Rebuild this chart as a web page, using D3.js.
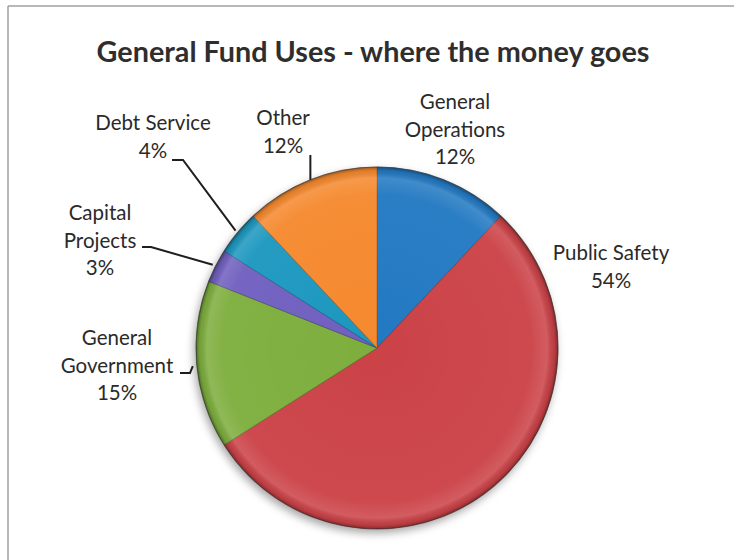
<!DOCTYPE html>
<html>
<head>
<meta charset="utf-8">
<script src="https://cdn.jsdelivr.net/npm/d3@7"></script>
<style>
  html, body { margin: 0; padding: 0; background: #ffffff; }
  svg { display: block; }
  text { font-family: Lato, "Open Sans", sans-serif; }
</style>
</head>
<body>
<svg id="chart" width="734" height="560"></svg>
<script>
// Budget categories, clockwise from twelve o'clock
const categories = ["General Operations", "Public Safety", "General Government", "Capital Projects", "Debt Service", "Other"];
const shares = [12, 54, 15, 3, 4, 12];
const labelLines = [
  ["General", "Operations", "12%"],
  ["Public Safety", "54%"],
  ["General", "Government", "15%"],
  ["Capital", "Projects", "3%"],
  ["Debt Service", "4%"],
  ["Other", "12%"]
];
const sliceColors = ["#2479c2", "#cb4347", "#7dae3c", "#6f5fbf", "#1b97bf", "#f5892f"];
const titleText = "General Fund Uses - where the money goes";

const W = 734, H = 560;
const cx = 377, cy = 348, R = 181;

const svg = d3.select("#chart");
const defs = svg.append("defs");

// Soft drop shadow under the pie
const shadow = defs.append("filter").attr("id", "pieShadow")
  .attr("x", "-20%").attr("y", "-20%").attr("width", "140%").attr("height", "140%");
shadow.append("feDropShadow").attr("dx", -2).attr("dy", 4)
  .attr("stdDeviation", 4).attr("flood-color", "#000").attr("flood-opacity", 0.35);

// Bevel-like shading: lighter band near the rim, darker right at the edge
// (user space of the translated pie group, so centred at 0,0)
const bevel = defs.append("radialGradient").attr("id", "bevel")
  .attr("gradientUnits", "userSpaceOnUse")
  .attr("cx", 0).attr("cy", 0).attr("r", R);
bevel.append("stop").attr("offset", "0%").attr("stop-color", "#fff").attr("stop-opacity", 0);
bevel.append("stop").attr("offset", "85%").attr("stop-color", "#fff").attr("stop-opacity", 0.04);
bevel.append("stop").attr("offset", "94%").attr("stop-color", "#fff").attr("stop-opacity", 0.14);
bevel.append("stop").attr("offset", "98%").attr("stop-color", "#000").attr("stop-opacity", 0.08);
bevel.append("stop").attr("offset", "100%").attr("stop-color", "#000").attr("stop-opacity", 0.35);

// Frame lines along the top and left
svg.append("line").attr("x1", 8).attr("y1", 6).attr("x2", W).attr("y2", 6)
  .attr("stroke", "#a0a0a0").attr("stroke-width", 1.5);
svg.append("line").attr("x1", 8).attr("y1", 6).attr("x2", 8).attr("y2", H)
  .attr("stroke", "#a0a0a0").attr("stroke-width", 1.5);

// Title, fitted to its line width
const title = svg.append("text")
  .attr("x", 373).attr("y", 62)
  .attr("text-anchor", "middle")
  .attr("font-weight", 700)
  .attr("font-size", 28)
  .attr("fill", "#2e2e2e")
  .text(titleText);
const tw = title.node().getComputedTextLength();
title.attr("font-size", 28 * 553 / tw);

// Pie
const data = categories.map((c, i) => ({ name: c, value: shares[i], color: sliceColors[i], lines: labelLines[i] }));
const pie = d3.pie().sort(null).value(d => d.value).startAngle(0).endAngle(2 * Math.PI);
const arcs = pie(data);
const arc = d3.arc().innerRadius(0).outerRadius(R);

const g = svg.append("g").attr("transform", `translate(${cx},${cy})`);
const pieGroup = g.append("g").attr("filter", "url(#pieShadow)");
pieGroup.selectAll("path.slice").data(arcs).join("path")
  .attr("class", "slice")
  .attr("d", arc)
  .attr("fill", d => d.data.color)
  .attr("stroke", d => d3.color(d.data.color).darker(1.2))
  .attr("stroke-width", 1)
  .attr("stroke-opacity", 0.6);

// Shading overlay on each slice
g.append("g").selectAll("path.shade").data(arcs).join("path")
  .attr("class", "shade")
  .attr("d", arc)
  .attr("fill", "url(#bevel)")
  .attr("stroke", "none");

// Outer rim
g.append("circle").attr("r", R).attr("fill", "none")
  .attr("stroke", "#3a3a3a").attr("stroke-opacity", 0.55).attr("stroke-width", 1.2);

// Label layout: centre x and first baseline
const lineGap = 27.5;
const labelPos = [
  { x: 455, y: 109 },
  { x: 611, y: 260 },
  { x: 117, y: 345 },
  { x: 100, y: 220 },
  { x: 153, y: 130 },
  { x: 283, y: 125 }
];

const labels = svg.append("g").attr("font-size", 20.5).attr("fill", "#2a2a2a");
data.forEach((d, i) => {
  const t = labels.append("text").attr("text-anchor", "middle");
  d.lines.forEach((ln, j) => {
    t.append("tspan").attr("x", labelPos[i].x).attr("y", labelPos[i].y + j * lineGap).text(ln);
  });
});

// Leader lines from labels to the slice rims (mid-angle)
function rimPoint(a) {
  const ang = (a.startAngle + a.endAngle) / 2;
  return [cx + R * Math.sin(ang), cy - R * Math.cos(ang)];
}
const leaders = [
  { i: 5, pts: a => { const p = rimPoint(a); return [[p[0], 155], p]; } },
  { i: 4, pts: a => { const p = rimPoint(a); return [[172, 160], [183, 160], [p[0] - 2, p[1] - 2]]; } },
  { i: 3, pts: a => { const p = rimPoint(a); return [[142, 247], [151, 247], [p[0] - 3, p[1] - 1]]; } },
  { i: 2, pts: a => { const p = rimPoint(a); return [[180, 373], [190, 373], [p[0] - 4, p[1] + 1]]; } }
];
const lineGen = d3.line();
leaders.forEach(l => {
  svg.append("path")
    .attr("d", lineGen(l.pts(arcs[l.i])))
    .attr("fill", "none")
    .attr("stroke", "#1e1e1e")
    .attr("stroke-width", 2);
});
</script>
</body>
</html>
